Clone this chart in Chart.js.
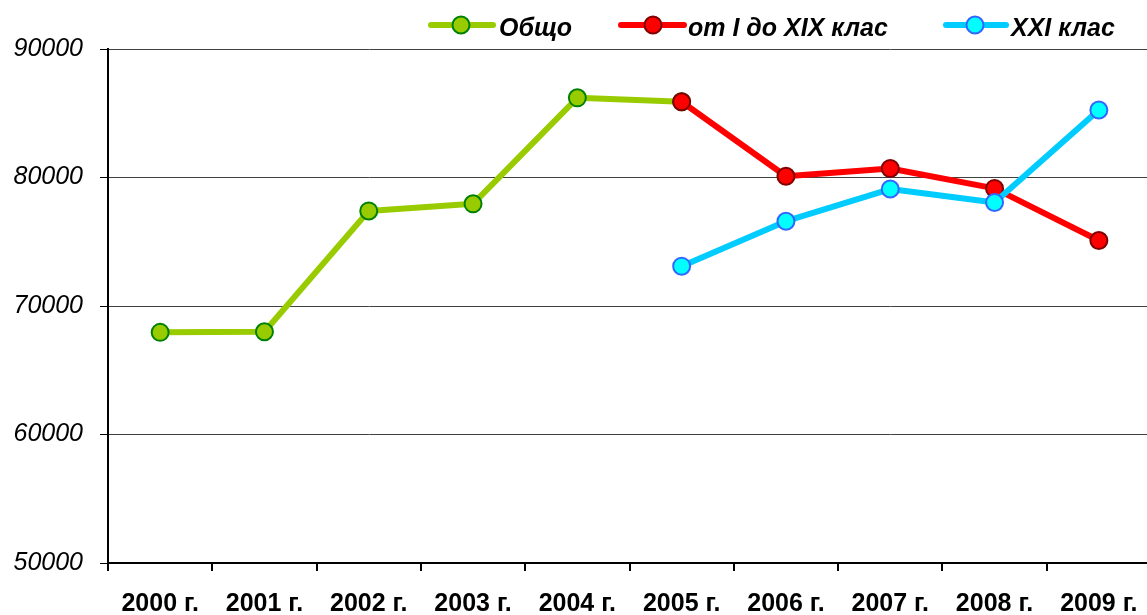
<!DOCTYPE html>
<html>
<head>
<meta charset="utf-8">
<script src="https://cdn.jsdelivr.net/npm/chart.js@4"></script>
<style>
html,body{margin:0;padding:0;background:#fff;overflow:hidden;}
#c{display:block;}
</style>
</head>
<body>
<canvas id="c" width="1151" height="615"></canvas>
<script>
const categories = ['2000 г.','2001 г.','2002 г.','2003 г.','2004 г.','2005 г.','2006 г.','2007 г.','2008 г.','2009 г.'];
const seriesNames = ['Общо','от I до XIX клас','XXI клас'];
const totalValues = [67950, 68000, 77400, 77950, 86200, 85900, null, null, null, null];
const class1to19Values = [null, null, null, null, null, 85900, 80100, 80700, 79150, 75100];
const class21Values = [null, null, null, null, null, 73100, 76600, 79100, 78050, 85250];
const yTicks = [50000, 60000, 70000, 80000, 90000];

const FONT = "'Liberation Sans', Arial, sans-serif";

const legendPlugin = {
  id: 'customLegend',
  afterDraw(chart) {
    const ctx = chart.ctx;
    const pos = [
      {x0: 431, x1: 493, cx: 461, tx: 499},
      {x0: 621, x1: 684, cx: 653, tx: 688},
      {x0: 946, x1: 1006, cx: 975, tx: 1011}
    ];
    const y = 25;
    ctx.save();
    chart.data.datasets.forEach((ds, i) => {
      const p = pos[i];
      ctx.strokeStyle = ds.borderColor;
      ctx.lineWidth = 6;
      ctx.lineCap = 'round';
      ctx.beginPath();
      ctx.moveTo(p.x0, y);
      ctx.lineTo(p.x1, y);
      ctx.stroke();
      ctx.beginPath();
      ctx.arc(p.cx, y, 8.5, 0, Math.PI * 2);
      ctx.fillStyle = ds.pointBackgroundColor;
      ctx.fill();
      ctx.lineWidth = 2;
      ctx.strokeStyle = ds.pointBorderColor;
      ctx.stroke();
      ctx.fillStyle = '#000';
      ctx.font = "italic bold 25px " + FONT;
      ctx.textBaseline = 'middle';
      ctx.textAlign = 'left';
      ctx.fillText(ds.label, p.tx, y + 4);
    });
    ctx.restore();
  }
};

new Chart(document.getElementById('c'), {
  type: 'line',
  data: {
    labels: categories,
    datasets: [
      {
        label: seriesNames[0], data: totalValues, order: 3,
        borderColor: '#99cc00', borderWidth: 6,
        pointBackgroundColor: '#99cc00', pointBorderColor: '#008000',
        pointBorderWidth: 2, pointRadius: 8.5,
        borderJoinStyle: 'round', borderCapStyle: 'round', spanGaps: false
      },
      {
        label: seriesNames[1], data: class1to19Values, order: 2,
        borderColor: '#ff0000', borderWidth: 6,
        pointBackgroundColor: '#ff0000', pointBorderColor: '#800000',
        pointBorderWidth: 2, pointRadius: 8.5,
        borderJoinStyle: 'round', borderCapStyle: 'round'
      },
      {
        label: seriesNames[2], data: class21Values, order: 1,
        borderColor: '#00ccff', borderWidth: 6,
        pointBackgroundColor: '#00ffff', pointBorderColor: '#3366ff',
        pointBorderWidth: 2, pointRadius: 8.5,
        borderJoinStyle: 'round', borderCapStyle: 'round'
      }
    ]
  },
  options: {
    responsive: false,
    animation: false,
    layout: { autoPadding: false, padding: { top: 49, left: 0, right: 0, bottom: 0 } },
    plugins: { legend: { display: false }, tooltip: { enabled: false } },
    scales: {
      x: {
        offset: true,
        afterFit(scale) { scale.height = 52; scale.paddingLeft = 0; scale.paddingRight = 0; },
        grid: { offset: true, drawOnChartArea: false, tickColor: '#000', tickLength: 8, lineWidth: 2 },
        border: { color: '#000', width: 2 },
        ticks: { color: '#000', font: { family: FONT, size: 25, weight: 'bold' }, padding: 18, maxRotation: 0, autoSkip: false }
      },
      y: {
        min: yTicks[0], max: yTicks[yTicks.length - 1],
        afterFit(scale) { scale.width = 108; scale.paddingTop = 0; scale.paddingBottom = 0; },
        afterBuildTicks(scale) { scale.ticks = yTicks.map(v => ({ value: v })); },
        grid: { color: '#404040', lineWidth: 1, tickColor: '#000', tickLength: 8 },
        border: { color: '#000', width: 2 },
        ticks: { color: '#000', font: { family: FONT, size: 25, style: 'italic' }, padding: 17, callback: v => String(v) }
      }
    }
  },
  plugins: [legendPlugin]
});
</script>
</body>
</html>
